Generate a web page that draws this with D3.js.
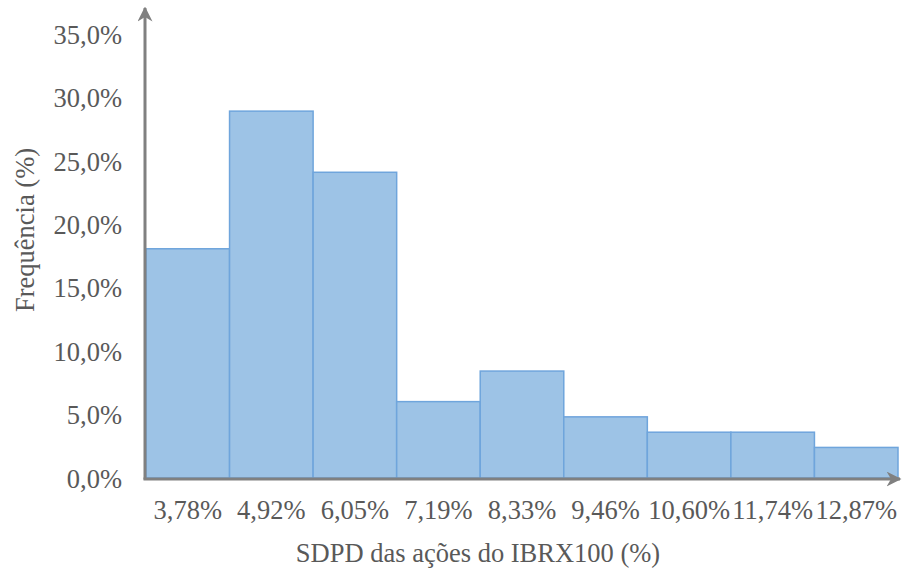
<!DOCTYPE html>
<html>
<head>
<meta charset="utf-8">
<script src="https://cdn.jsdelivr.net/npm/d3@7"></script>
<style>
  html, body { margin: 0; padding: 0; background: #fff; }
  text { font-family: "Liberation Serif", "Times New Roman", serif; fill: #595959; }
</style>
</head>
<body>
<svg id="chart" width="902" height="571"></svg>
<script>
// Histogram bins (lower bound labels) and relative frequency (%)
const binLabels = ["3,78%", "4,92%", "6,05%", "7,19%", "8,33%", "9,46%", "10,60%", "11,74%", "12,87%"];
const frequency = [18.07, 28.92, 24.10, 6.02, 8.43, 4.82, 3.61, 3.61, 2.41];
const yTicks = [0, 5, 10, 15, 20, 25, 30, 35];

const svg = d3.select("#chart");
const plotLeft = 146, plotRight = 898, plotTop = 34, plotBottom = 478;
const fontSize = "26.5px";

const x = d3.scaleBand().domain(binLabels).range([plotLeft, plotRight]).padding(0);
const y = d3.scaleLinear().domain([0, 35]).range([plotBottom, plotTop]);

const fmt = v => d3.format(".1f")(v).replace(".", ",") + "%";

// bars
svg.append("g").selectAll("rect")
  .data(frequency)
  .join("rect")
  .attr("x", (d, i) => x(binLabels[i]))
  .attr("y", d => y(d))
  .attr("width", x.bandwidth())
  .attr("height", d => plotBottom - y(d))
  .attr("fill", "#9dc3e6")
  .attr("stroke", "#6fa5dc")
  .attr("stroke-width", 1.5);

// arrow marker
const defs = svg.append("defs");
defs.append("marker")
  .attr("id", "arrow")
  .attr("viewBox", "0 0 10 10")
  .attr("refX", 9).attr("refY", 5)
  .attr("markerWidth", 5).attr("markerHeight", 5)
  .attr("markerUnits", "strokeWidth")
  .attr("orient", "auto")
  .append("path")
  .attr("d", "M0,0 L10,5 L0,10 L3,5 Z")
  .attr("fill", "#808080");

// y axis line with arrow
svg.append("line")
  .attr("x1", 145).attr("y1", plotBottom + 1.5)
  .attr("x2", 145).attr("y2", 8)
  .attr("stroke", "#808080").attr("stroke-width", 3)
  .attr("marker-end", "url(#arrow)");

// x axis line with arrow
svg.append("line")
  .attr("x1", 143.5).attr("y1", plotBottom + 1)
  .attr("x2", 900).attr("y2", plotBottom + 1)
  .attr("stroke", "#808080").attr("stroke-width", 3)
  .attr("marker-end", "url(#arrow)");

// y tick labels
const yAxis = d3.axisLeft(y).tickValues(yTicks).tickFormat(fmt).tickSize(0).tickPadding(0);
const gy = svg.append("g").attr("transform", "translate(122,0)").call(yAxis);
gy.select(".domain").remove();
gy.selectAll("text")
  .style("font-family", "'Liberation Serif', serif")
  .style("font-size", fontSize)
  .attr("fill", "#595959")
  .attr("dy", "0.35em");

// x tick labels
const xAxis = d3.axisBottom(x).tickSize(0).tickPadding(0);
const gx = svg.append("g").attr("transform", `translate(0,${plotBottom})`).call(xAxis);
gx.select(".domain").remove();
gx.selectAll("text")
  .style("font-family", "'Liberation Serif', serif")
  .style("font-size", fontSize)
  .attr("fill", "#595959")
  .attr("y", 32)
  .attr("dy", "0.35em");

// axis titles
svg.append("text")
  .attr("x", 478).attr("y", 553)
  .attr("text-anchor", "middle")
  .attr("dy", "0.35em")
  .style("font-size", fontSize)
  .text("SDPD das ações do IBRX100 (%)");

svg.append("text")
  .attr("transform", "translate(25,230) rotate(-90)")
  .attr("text-anchor", "middle")
  .attr("dy", "0.35em")
  .style("font-size", fontSize)
  .text("Frequência (%)");
</script>
</body>
</html>
